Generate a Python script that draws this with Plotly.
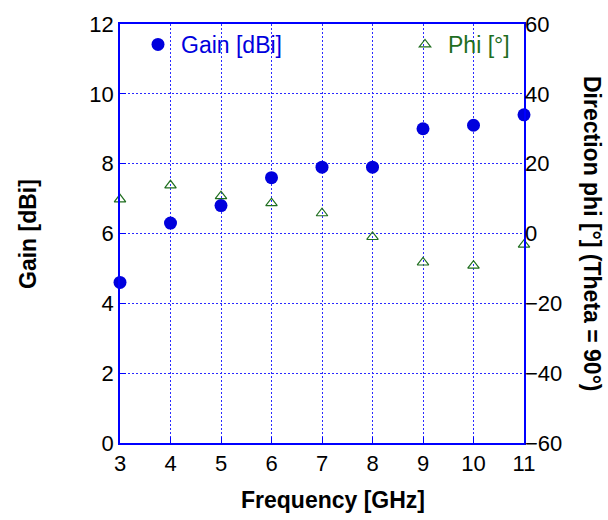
import plotly.graph_objects as go

freq = [3, 4, 5, 6, 7, 8, 9, 10, 11]
gain = [4.6, 6.3, 6.8, 7.6, 7.9, 7.9, 9.0, 9.1, 9.4]
phi = [9.8, 13.8, 10.7, 8.7, 5.8, -1.0, -8.3, -9.2, -3.2]

BLUE = "#0000dd"
GREEN = "#1f6e1f"
GRID = "#2a2aff"
FONT = "Liberation Sans, Arial, sans-serif"
TICK = 22
TITLE = 23

W, H = 608, 520
ML, MR, MT, MB = 120, 84, 18, 77
PW, PH = W - ML - MR, H - MT - MB


def px(x):
    return (x - ML) / PW


def py(y):
    return (H - MB - y) / PH


fig = go.Figure()
fig.add_trace(go.Scatter(x=freq, y=gain, mode="markers", name="Gain [dBi]",
                         marker=dict(symbol="circle", size=13, color=BLUE),
                         cliponaxis=False, legend="legend"))
fig.add_trace(go.Scatter(x=freq, y=phi, mode="markers", name="Phi [°]", yaxis="y2",
                         marker=dict(symbol="triangle-up-open", size=10, color=GREEN,
                                     line=dict(width=1.2, color=GREEN)),
                         cliponaxis=False, legend="legend2"))

axis_common = dict(showline=True, linecolor="#0000ff", linewidth=1.5, mirror=True,
                   ticks="inside", tickcolor="#0000ff", ticklen=6,
                   tickfont=dict(family=FONT, size=TICK, color="black"),
                   zeroline=False)

fig.update_layout(
    width=W, height=H,
    margin=dict(l=ML, r=MR, t=MT, b=MB),
    paper_bgcolor="white", plot_bgcolor="white",
    font=dict(family=FONT),
    xaxis=dict(range=[3, 11], dtick=1, showgrid=True, gridcolor=GRID,
               griddash="2px,2px", gridwidth=1, **axis_common),
    yaxis=dict(range=[0, 12], dtick=2, showgrid=True, gridcolor=GRID,
               griddash="2px,2px", gridwidth=1, **axis_common),
    yaxis2=dict(range=[-60, 60], dtick=20, overlaying="y", side="right",
                showgrid=False, showline=False, ticks="",
                tickfont=dict(family=FONT, size=TICK, color="black"), zeroline=False),
    legend=dict(x=px(135), y=py(17), xanchor="left", yanchor="top", itemwidth=36,
                bgcolor="rgba(0,0,0,0)", font=dict(family=FONT, size=TITLE, color=BLUE)),
    legend2=dict(x=px(402), y=py(17), xanchor="left", yanchor="top", itemwidth=36,
                 bgcolor="rgba(0,0,0,0)", font=dict(family=FONT, size=TITLE, color=GREEN)),
    showlegend=True,
    annotations=[
        dict(text="<b>Gain [dBi]</b>", x=px(28), y=py(231), xref="paper", yref="paper",
             xanchor="center", yanchor="middle",
             showarrow=False, textangle=-90, font=dict(family=FONT, size=TITLE, color="black")),
        dict(text="<b>Frequency [GHz]</b>", x=px(333), y=py(501), xref="paper", yref="paper",
             xanchor="center", yanchor="middle",
             showarrow=False, font=dict(family=FONT, size=TITLE, color="black")),
        dict(text="<b>Direction phi [°] (Theta = 90°)</b>", x=px(592), y=py(231), xref="paper",
             yref="paper", xanchor="center", yanchor="middle", showarrow=False, textangle=90,
             font=dict(family=FONT, size=TITLE, color="black")),
    ],
)

fig.write_html("out.html")
